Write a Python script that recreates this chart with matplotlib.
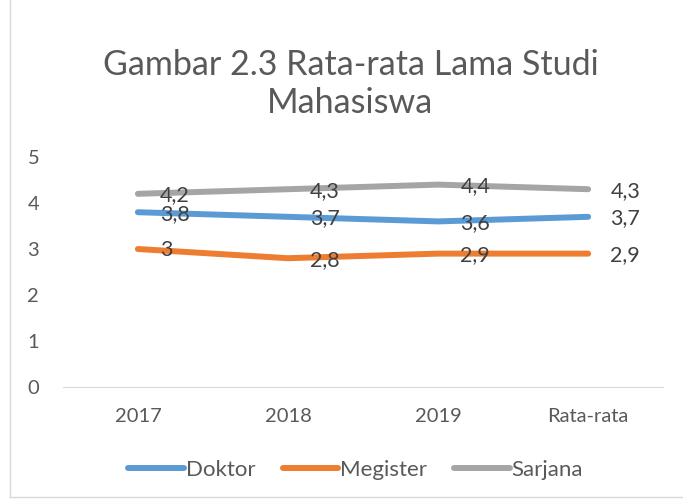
import matplotlib.pyplot as plt
from matplotlib.lines import Line2D

# Data
categories = ["2017", "2018", "2019", "Rata-rata"]
doktor = [3.8, 3.7, 3.6, 3.7]
megister = [3.0, 2.8, 2.9, 2.9]
sarjana = [4.2, 4.3, 4.4, 4.3]

series = [
    ("Doktor", doktor, "#5B9BD5"),
    ("Megister", megister, "#ED7D31"),
    ("Sarjana", sarjana, "#A5A5A5"),
]

plt.rcParams['font.family'] = ['Lato', 'DejaVu Sans']
text_color = "#595959"

fig = plt.figure(figsize=(6.83, 5.01), dpi=100)
ax = fig.add_axes([0.092, 0.2275, 0.879, 0.4591])

x = list(range(len(categories)))
for name, vals, color in series:
    ax.plot(x, vals, color=color, linewidth=4.3, solid_capstyle='round', label=name)
    for xi, v in zip(x, vals):
        label = f"{v:g}".replace(".", ",")
        ax.annotate(label, (xi, v), xytext=(16, -1), textcoords='offset points',
                    ha='left', va='center', fontsize=15.5, color="#404040")

ax.set_xlim(-0.5, len(categories) - 0.5)
ax.set_ylim(0, 5)
ax.set_xticks(x)
ax.set_xticklabels(categories)
ax.set_yticks(range(0, 6))
ax.tick_params(axis='both', length=0, labelsize=14.5, labelcolor=text_color)
ax.tick_params(axis='x', pad=15)
ax.tick_params(axis='y', pad=17)
for s in ['top', 'right', 'left']:
    ax.spines[s].set_visible(False)
ax.spines['bottom'].set_color("#D9D9D9")

fig.text(0.513, 0.832, "Gambar 2.3 Rata-rata Lama Studi\nMahasiswa", ha='center', va='center',
         fontsize=24.5, color=text_color, linespacing=1.22)

ax.legend(loc='center', bbox_to_anchor=(0.521, 0.062), bbox_transform=fig.transFigure,
          ncol=3, frameon=False, fontsize=16, labelcolor=text_color,
          handlelength=2.5, handletextpad=0.1, columnspacing=1.2)

# chart frame (left and bottom edges visible)
fig.add_artist(Line2D([10 / 683, 10 / 683], [4 / 501, 1], transform=fig.transFigure, color="#D9D9D9", lw=1))
fig.add_artist(Line2D([10 / 683, 1], [4 / 501, 4 / 501], transform=fig.transFigure, color="#D9D9D9", lw=1))

fig.savefig("out.png", dpi=100)
